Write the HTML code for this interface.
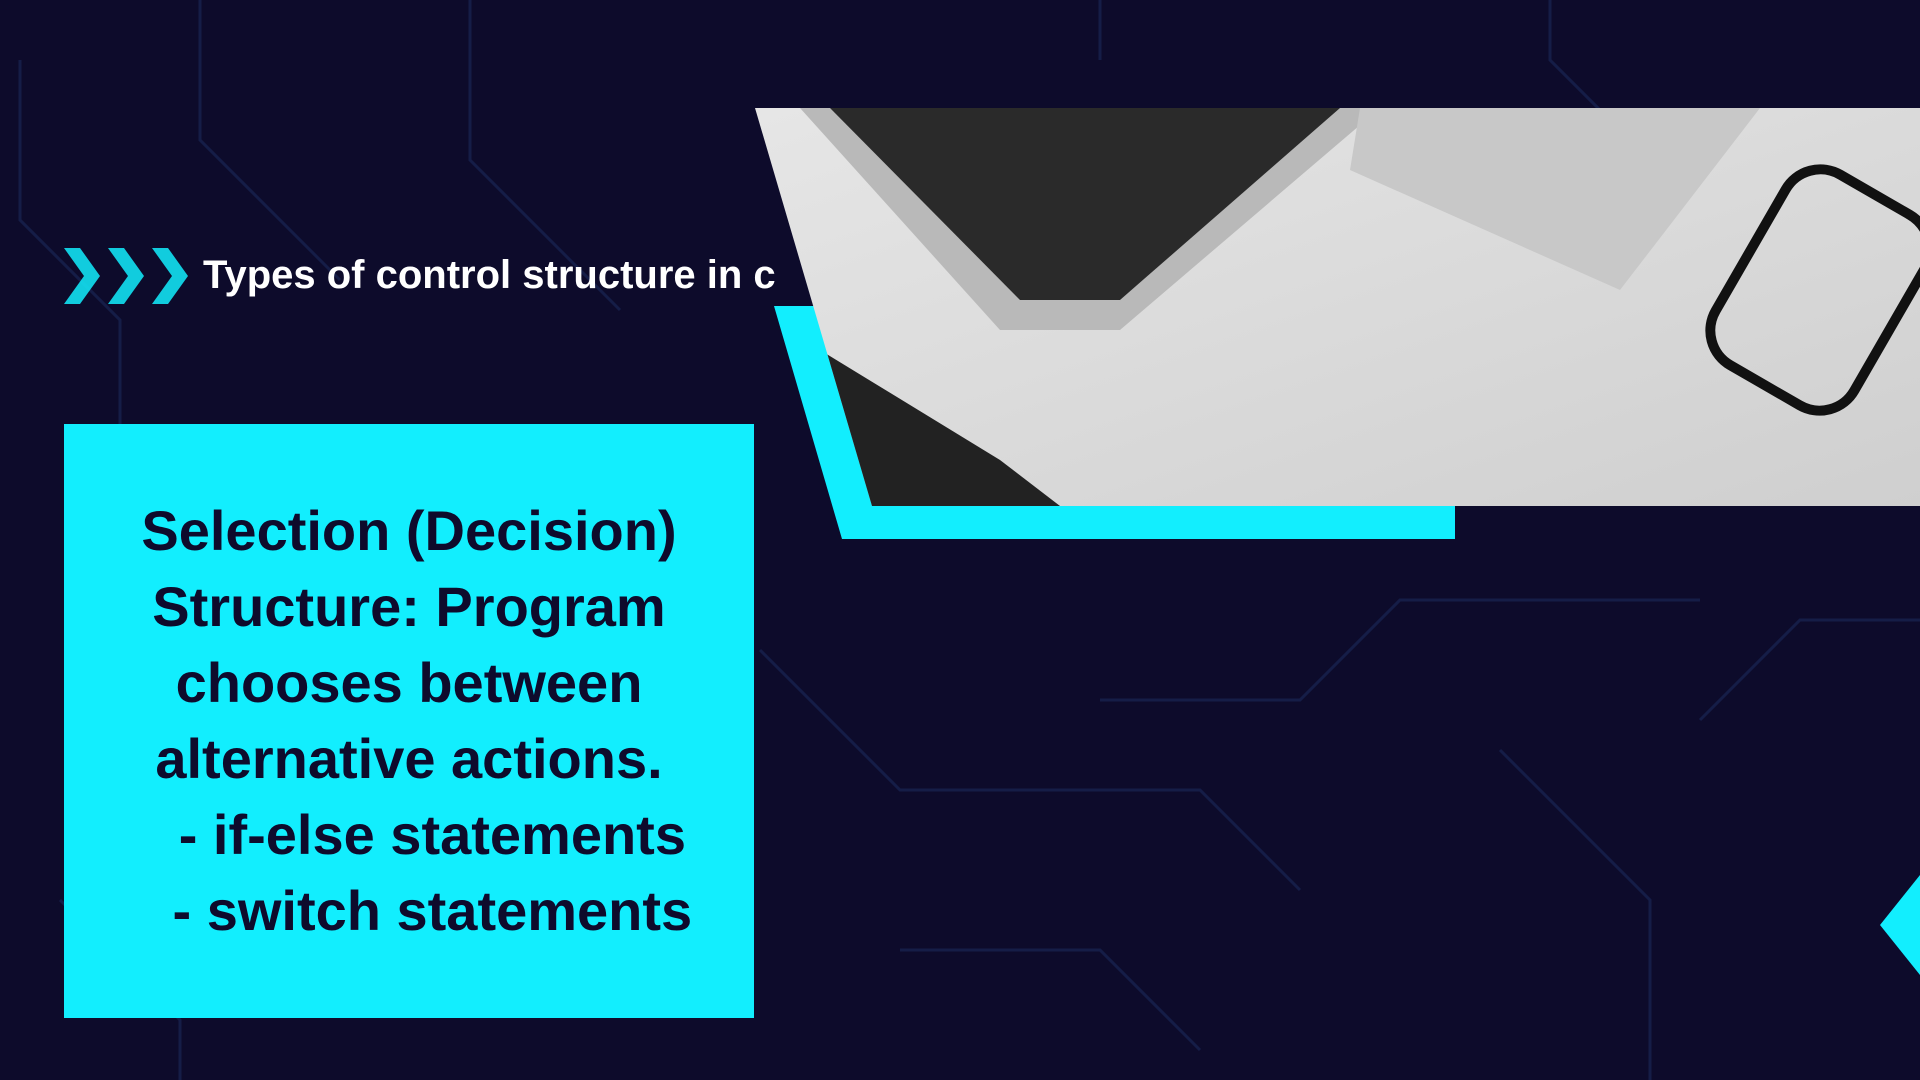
<!DOCTYPE html>
<html><head><meta charset="utf-8"><style>
html,body{margin:0;padding:0;}
body{width:1920px;height:1080px;overflow:hidden;background:#0d0b2b;position:relative;font-family:"Liberation Sans",sans-serif;}
.title{position:absolute;left:203px;top:253px;color:#fff;font-weight:bold;font-size:40px;white-space:nowrap;}
.box{position:absolute;left:64px;top:424px;width:690px;height:594px;background:#12eefe;}
.txt{position:absolute;left:64px;top:493px;width:690px;text-align:center;color:#0e0b2c;font-weight:bold;font-size:56px;line-height:76px;white-space:nowrap;}
</style></head><body>
<svg width="1920" height="1080" style="position:absolute;left:0;top:0">
<g stroke="#1b2a5a" stroke-width="3" fill="none" opacity="0.6">
<path d="M20 60 L20 220 L120 320 L120 520"/><path d="M200 0 L200 140 L340 280"/><path d="M470 0 L470 160 L620 310"/>
<path d="M60 900 L180 1020 L180 1080"/><path d="M760 650 L900 790 L1200 790 L1300 890"/><path d="M1100 700 L1300 700 L1400 600 L1700 600"/>
<path d="M900 950 L1100 950 L1200 1050"/><path d="M1500 750 L1650 900 L1650 1080"/><path d="M1700 720 L1800 620 L1920 620"/>
<path d="M1550 0 L1550 60 L1650 160"/><path d="M1100 0 L1100 60"/>
</g>
<g fill="#12eefe" opacity="0.85">
<polygon points="64,248 80,248 100,276 80,304 64,304 84,276"/>
<polygon points="108,248 124,248 144,276 124,304 108,304 128,276"/>
<polygon points="152,248 168,248 188,276 168,304 152,304 172,276"/>
</g>
<polygon points="774,306 1455,306 1455,539 842,539" fill="#12eefe"/>
<defs><linearGradient id="g" x1="0" y1="0" x2="1" y2="1"><stop offset="0" stop-color="#e6e6e6"/><stop offset="1" stop-color="#cfcfcf"/></linearGradient>
<clipPath id="c"><polygon points="755,108 1920,108 1920,506 872,506"/></clipPath></defs>
<g clip-path="url(#c)">
<rect x="755" y="108" width="1165" height="398" fill="url(#g)"/>
<polygon points="800,108 1380,108 1120,330 1000,330" fill="#b9b9b9"/>
<polygon points="830,108 1340,108 1120,300 1020,300" fill="#2a2a2a"/>
<polygon points="1360,108 1760,108 1620,290 1350,170" fill="#c8c8c8"/>
<polygon points="820,350 1000,460 1060,506 830,506" fill="#222"/>
<rect x="1740" y="180" width="160" height="220" fill="none" stroke="#111" stroke-width="10" rx="40" transform="rotate(30 1820 290)"/>
</g>
<polygon points="1880,925 1920,875 1920,975" fill="#12eefe"/>
</svg>
<div class="title">Types of control structure in c</div>
<div class="box"></div>
<div class="txt">Selection (Decision)<br>Structure: Program<br>chooses between<br>alternative actions.<br>&nbsp;&nbsp;&nbsp;- if-else statements<br>&nbsp;&nbsp;&nbsp;- switch statements</div>
</body></html>
